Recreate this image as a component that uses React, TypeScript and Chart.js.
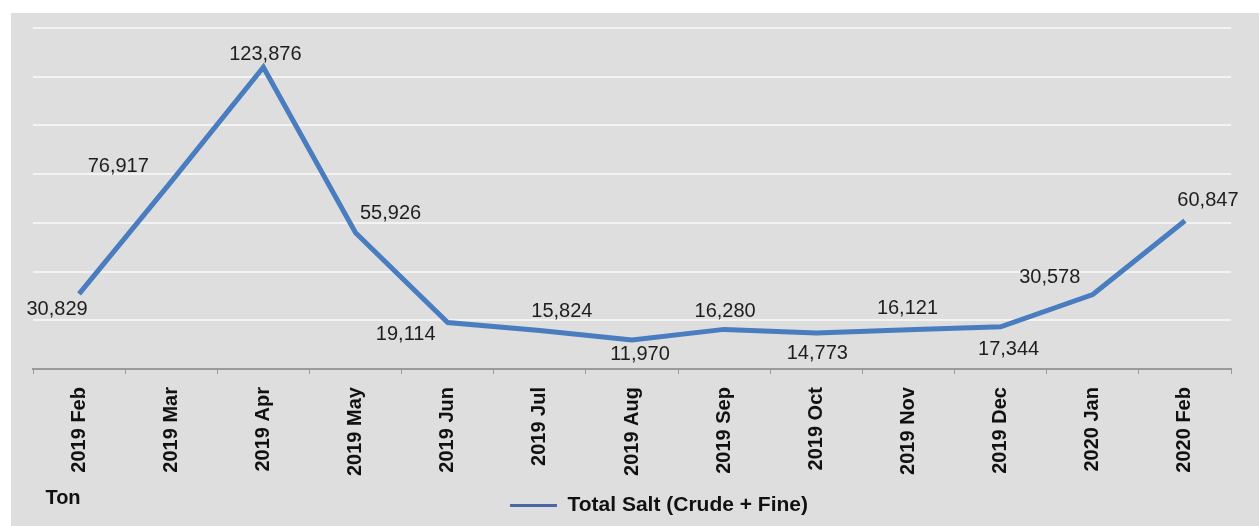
import React, { useEffect, useRef } from "react";
import { Chart, registerables } from "chart.js";

Chart.register(...registerables);

// ---- data ----
const categories = [
  "2019 Feb", "2019 Mar", "2019 Apr", "2019 May", "2019 Jun", "2019 Jul", "2019 Aug",
  "2019 Sep", "2019 Oct", "2019 Nov", "2019 Dec", "2020 Jan", "2020 Feb",
];
const totalSalt = [30829, 76917, 123876, 55926, 19114, 15824, 11970, 16280, 14773, 16121, 17344, 30578, 60847];
const seriesName = "Total Salt (Crude + Fine)";
const unitLabel = "Ton";
const yMin = 0;
const yMax = 140000;
const yStep = 20000;

// label placement relative to each point (layout only)
const labelOffsets: [number, number][] = [
  [-22, 16], [-53, -15], [2, -13], [35, -19], [-42, 12], [22, -19], [8, 15],
  [1, -18], [1, 20], [-1, -21], [8, 23], [-43, -17], [23, -20],
];

const FONT = "'Liberation Sans', Arial, Helvetica, sans-serif";
const LEGEND_SHIFT_X = 27;

const valueLabelPlugin = {
  id: "valueLabels",
  afterLayout(chart: any) {
    const lg = chart.legend;
    if (lg) {
      lg.left += LEGEND_SHIFT_X;
      lg.right += LEGEND_SHIFT_X;
    }
  },
  afterDatasetsDraw(chart: any) {
    const ctx = chart.ctx;
    const meta = chart.getDatasetMeta(0);
    const data = chart.data.datasets[0].data as number[];
    ctx.save();
    ctx.font = `20px ${FONT}`;
    ctx.fillStyle = "#1e1e1e";
    ctx.textAlign = "center";
    ctx.textBaseline = "middle";
    meta.data.forEach((pt: any, i: number) => {
      const [dx, dy] = labelOffsets[i] || [0, -16];
      ctx.fillText(data[i].toLocaleString("en-US"), pt.x + dx, pt.y + dy);
    });
    // unit label
    ctx.font = `bold 20px ${FONT}`;
    ctx.fillStyle = "#111";
    ctx.fillText(unitLabel, 52, chart.height - 28);
    ctx.restore();
  },
};

export default function App() {
  const ref = useRef<HTMLCanvasElement | null>(null);

  useEffect(() => {
    if (!ref.current) return;
    const chart = new Chart(ref.current, {
      type: "line",
      data: {
        labels: categories,
        datasets: [
          {
            label: seriesName,
            data: totalSalt,
            borderColor: "#4a7cc0",
            backgroundColor: "#4a7cc0",
            borderWidth: 5,
            pointRadius: 0,
            tension: 0,
          },
        ],
      },
      options: {
        animation: false,
        responsive: true,
        maintainAspectRatio: false,
        layout: { padding: { left: 22, right: 28, top: 15, bottom: 0 } },
        scales: {
          x: {
            offset: true,
            grid: {
              offset: true,
              drawOnChartArea: false,
              drawTicks: true,
              tickLength: 5,
              color: "#9a9a9a",
            },
            border: { display: true, color: "#9a9a9a", width: 2 },
            ticks: {
              autoSkip: false,
              maxRotation: 90,
              minRotation: 90,
              padding: 13,
              color: "#111",
              font: { family: FONT, size: 20, weight: "bold" },
            },
          },
          y: {
            min: yMin,
            max: yMax,
            ticks: { display: false, stepSize: yStep },
            grid: { color: "#f3f3f3", lineWidth: 2, drawTicks: false },
            border: { display: false },
          },
        },
        plugins: {
          legend: {
            position: "bottom",
            labels: {
              color: "#111",
              font: { family: FONT, size: 21, weight: "bold" },
              usePointStyle: true,
              pointStyleWidth: 47,
              padding: 6,
              generateLabels: (c: any) => {
                const items = (Chart.defaults.plugins.legend.labels as any).generateLabels(c);
                items.forEach((it: any) => {
                  it.pointStyle = "line";
                  it.lineWidth = 3;
                  it.strokeStyle = "#4a68a8";
                });
                return items;
              },
            },
          },
          tooltip: { enabled: false },
        },
      },
      plugins: [valueLabelPlugin],
    });
    return () => chart.destroy();
  }, []);

  return (
    <div
      style={{
        position: "fixed",
        left: 11,
        top: 13,
        width: 1248,
        height: 513,
        background: "#dedede",
      }}
    >
      <canvas ref={ref} />
    </div>
  );
}
